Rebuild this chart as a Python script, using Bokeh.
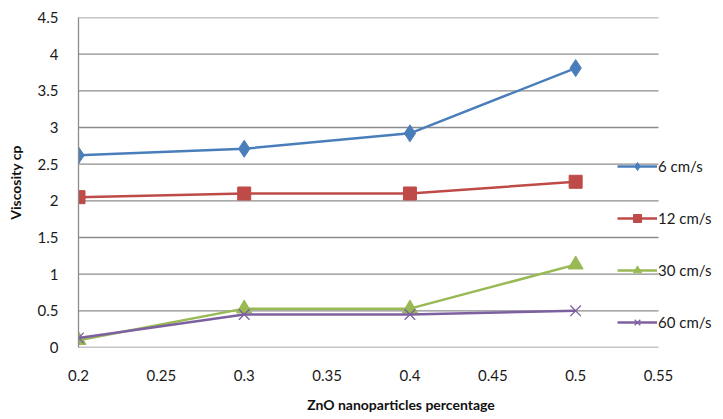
from bokeh.plotting import figure
from bokeh.models import Range1d, FixedTicker, Legend, LegendItem
from bokeh.embed import file_html
from bokeh.resources import INLINE

x_vals = [0.2, 0.3, 0.4, 0.5]
v6 = [2.62, 2.71, 2.92, 3.81]
v12 = [2.05, 2.10, 2.10, 2.26]
v30 = [0.10, 0.53, 0.53, 1.13]
v60 = [0.13, 0.45, 0.45, 0.50]
series_names = ["6 cm/s", "12 cm/s", "30 cm/s", "60 cm/s"]

x_ticks = [0.2, 0.25, 0.3, 0.35, 0.4, 0.45, 0.5, 0.55]
x_tick_labels = ["0.2", "0.25", "0.3", "0.35", "0.4", "0.45", "0.5", "0.55"]
y_ticks = [0, 0.5, 1, 1.5, 2, 2.5, 3, 3.5, 4, 4.5]
y_tick_labels = ["0", "0.5", "1", "1.5", "2", "2.5", "3", "3.5", "4", "4.5"]

FONT = "Lato"
GRID = "#8c8c8c"

X0, X1 = 0.2, 0.55
PLOT_LEFT, PLOT_RIGHT, W = 78, 658, 723
x_end = X0 + (X1 - X0) * (W - PLOT_LEFT) / (PLOT_RIGHT - PLOT_LEFT)

p = figure(width=W, height=419, output_backend="svg", toolbar_location=None,
           x_range=Range1d(X0, x_end), y_range=Range1d(0, 4.5),
           min_border_left=PLOT_LEFT, min_border_right=0, min_border_top=17, min_border_bottom=72)
p.outline_line_color = None
p.background_fill_color = "white"
p.border_fill_color = "white"

p.xgrid.grid_line_color = None
p.ygrid.grid_line_color = None

# horizontal gridlines limited to the plot area (0.2 .. 0.55)
p.segment(x0=[X0] * len(y_ticks), x1=[X1] * len(y_ticks), y0=y_ticks, y1=y_ticks,
          line_color=GRID, line_width=1.3)

for ax in (p.xaxis[0], p.yaxis[0]):
    ax.major_tick_line_color = None
    ax.minor_tick_line_color = None
    ax.major_label_text_font = FONT
    ax.major_label_text_font_size = "15px"
    ax.major_label_text_color = "#1a1a1a"
    ax.axis_label_text_font = FONT
    ax.axis_label_text_font_style = "bold"
    ax.axis_label_text_font_size = "14px"
    ax.axis_label_text_color = "#111111"
p.xaxis.axis_line_color = None
p.yaxis.axis_line_color = GRID
p.yaxis.axis_line_width = 1.3

p.xaxis.ticker = FixedTicker(ticks=x_ticks)
p.yaxis.ticker = FixedTicker(ticks=y_ticks)
p.xaxis.major_label_overrides = dict(zip(x_ticks, x_tick_labels))
p.yaxis.major_label_overrides = dict(zip(y_ticks, y_tick_labels))
p.xaxis.major_label_standoff = 16
p.yaxis.major_label_standoff = 14
p.xaxis.axis_label = "ZnO nanoparticles percentage"
p.yaxis.axis_label = "Viscosity cp"
p.xaxis.axis_label_standoff = 12
p.yaxis.axis_label_standoff = 11

items = []
specs = [
    (v6, "#4A7EBB", "diamond", 17),
    (v12, "#BE4B48", "square", 13),
    (v30, "#98B954", "triangle", 15),
    (v60, "#7D60A0", "x", 15),
]
for (vals, color, marker, size), name in zip(specs, series_names):
    r1 = p.line(x_vals, vals, line_color=color, line_width=2.5)
    if marker == "x":
        r2 = p.scatter(x_vals, vals, marker="x", size=size, line_color=color, line_width=1.3)
    else:
        r2 = p.scatter(x_vals, vals, marker=marker, size=size, fill_color=color, line_color=color)
    items.append(LegendItem(label=name, renderers=[r1, r2]))

legend = Legend(items=items, location=(539, 15), orientation="vertical",
                glyph_width=40, glyph_height=20, label_height=20, spacing=32,
                label_standoff=1, padding=0, margin=0,
                border_line_color=None, background_fill_alpha=0,
                label_text_font=FONT, label_text_font_size="15px",
                label_text_color="#1a1a1a")
p.add_layout(legend, "center")

open("out.html", "w").write(file_html(p, INLINE))
